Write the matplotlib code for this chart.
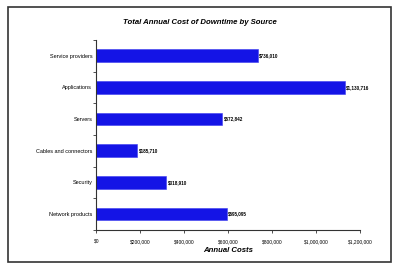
import matplotlib
matplotlib.use("Agg")
import matplotlib.pyplot as plt
from matplotlib.patches import Rectangle

categories = ["Service providers", "Applications", "Servers",
              "Cables and connectors", "Security", "Network products"]
values = [736010, 1130716, 572842, 185710, 318910, 595095]
value_labels = ["$736,010", "$1,130,716", "$572,842", "$185,710", "$318,910", "$595,095"]
xticks = [0, 200000, 400000, 600000, 800000, 1000000, 1200000]
xtick_labels = ["$0", "$200,000", "$400,000", "$600,000", "$800,000", "$1,000,000", "$1,200,000"]

plt.rcParams['font.family'] = ['Liberation Sans', 'DejaVu Sans']

fig = plt.figure(figsize=(4.0, 2.74), dpi=100)
fig.patch.set_facecolor("white")
fig.patches.append(Rectangle((0.02, 0.045), 0.958, 0.93, transform=fig.transFigure,
                             fill=False, edgecolor="#333333", linewidth=1.2))

ax = fig.add_axes([0.241, 0.161, 0.659, 0.693])
n = len(categories)
ypos = list(range(n))
ax.barh(ypos, values, height=0.4, color="#1414E6", edgecolor="#3A3AF0", linewidth=0.4)
ax.set_ylim(n - 0.5, -0.5)
ax.set_xlim(0, 1200000)

ax.set_yticks([i - 0.5 for i in range(n + 1)])
ax.set_yticklabels([])
ax.set_yticks(ypos, minor=True)
ax.set_yticklabels(categories, minor=True, fontsize=4)
ax.tick_params(axis='y', which='minor', length=0, pad=3)
ax.tick_params(axis='y', which='major', length=2.5, width=0.6, color="#333333")

ax.set_xticks(xticks)
ax.set_xticklabels(xtick_labels, fontsize=3.5)
ax.tick_params(axis='x', length=2.5, width=0.6, color="#333333", pad=4)

for s in ["top", "right"]:
    ax.spines[s].set_visible(False)
for s in ["left", "bottom"]:
    ax.spines[s].set_color("#333333")
    ax.spines[s].set_linewidth(0.8)

for y, v, lab in zip(ypos, values, value_labels):
    ax.text(v + 6000, y, lab, fontsize=3.3, fontweight="bold", va="center", ha="left")

fig.text(0.5, 0.918, "Total Annual Cost of Downtime by Source", fontsize=5.6,
         fontweight="bold", fontstyle="italic", ha="center", va="center")
ax.set_xlabel("Annual Costs", fontsize=5.6, fontweight="bold", fontstyle="italic", labelpad=2)

fig.savefig("out.png", dpi=100)
